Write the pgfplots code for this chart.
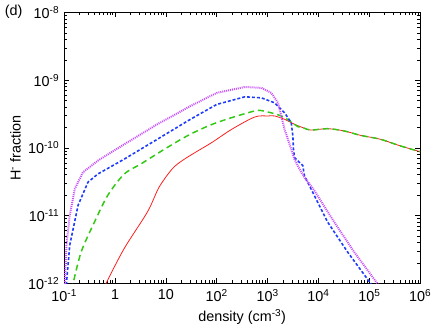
\documentclass[border=0pt]{standalone}
\usepackage{fontspec}
\setmainfont{Liberation Sans}
\usepackage{pgfplots}
\pgfplotsset{compat=1.18}

\definecolor{cred}{RGB}{250,30,30}
\definecolor{cgreen}{RGB}{50,200,20}
\definecolor{cblue}{RGB}{30,60,250}
\definecolor{cmag}{RGB}{200,80,250}

\begin{document}
\fontsize{14.5}{17}\selectfont
\begin{tikzpicture}
\begin{axis}[
    name=ax,
    scale only axis,
    width=359pt, height=273pt,
    xmode=log, ymode=log,
    xmin=0.1, xmax=1e6, ymin=1e-12, ymax=1e-8,
    xtick={1e-1,1,10,100,1e3,1e4,1e5,1e6},
    xticklabels={10\textsuperscript{-1},1,10,10\textsuperscript{2},10\textsuperscript{3},10\textsuperscript{4},10\textsuperscript{5},10\textsuperscript{6}},
    ytick={1e-12,1e-11,1e-10,1e-9,1e-8},
    yticklabels={10\textsuperscript{-12},10\textsuperscript{-11},10\textsuperscript{-10},10\textsuperscript{-9},10\textsuperscript{-8}},
    tick align=inside,
    major tick length=5pt, minor tick length=3pt,
    every tick/.style={black, line width=0.6pt},
    axis line style={line width=0.9pt},
    tick label style={font=\fontsize{14.5}{17}\selectfont},
    xticklabel style={yshift=-1pt},
    label style={font=\fontsize{14.5}{17}\selectfont},
    xlabel={density (cm\textsuperscript{-3})},
    ylabel={H\textsuperscript{-} fraction},
    xlabel style={at={(axis description cs:0.5,-0.125)}, anchor=center},
    ylabel style={at={(axis description cs:-0.1365,0.5)}, anchor=center, rotate=0},
    clip mode=individual,
  ]
  % red, solid
  \addplot[cred, line width=0.8pt, smooth] coordinates {
    (0.60,8.0e-13) (0.668,1e-12) (1.52,3.27e-12) (4.34,1.13e-11) (7.35,2.62e-11)
    (13.3,4.88e-11) (20.9,6.47e-11) (37.9,8.57e-11) (80.2,1.20e-10) (197,1.88e-10)
    (561,2.86e-10)
    (1023,2.96e-10) (1374,2.96e-10) (2155,2.64e-10) (3376,2.23e-10) (5286,1.95e-10)
    (7145,1.83e-10) (15100,1.92e-10) (31840,1.78e-10) (67300,1.53e-10)
    (1.65e5,1.34e-10) (4.06e5,1.07e-10) (1e6,8.77e-11)
  };
  % green, long dashes
  \addplot[cgreen, line width=1.5pt, dash pattern=on 6pt off 4pt, smooth] coordinates {
    (0.140,8.0e-13) (0.150,1e-12) (0.217,2.92e-12) (0.396,8.05e-12) (0.721,1.99e-11)
    (1.52,4.11e-11) (3.21,5.77e-11) (10.6,1.01e-10) (30.3,1.59e-10) (100,2.36e-10)
    (553,3.50e-10) (948,3.42e-10) (1859,2.96e-10) (2912,2.42e-10) (3936,2.06e-10)
    (5286,1.95e-10) (7145,1.83e-10) (15100,1.92e-10) (31840,1.78e-10) (67300,1.53e-10)
    (1.65e5,1.34e-10) (4.06e5,1.07e-10) (1e6,8.77e-11)
  };
  % blue, short dashes
  \addplot[cblue, line width=1.6pt, dash pattern=on 3pt off 2pt] coordinates {
    (0.108,8.0e-13) (0.111,1e-12) (0.129,3.67e-12) (0.188,1.42e-11) (0.294,3.11e-11)
    (0.460,4.11e-11) (1.52,6.82e-11) (6.79,1.34e-10) (30.3,2.64e-10) (100,4.38e-10)
    (358,5.68e-10) (757,5.48e-10) (1374,4.63e-10) (2155,3.30e-10) (2912,2.36e-10)
    (3141,1.50e-10) (3228,9.57e-11) (3376,7.22e-11) (4223,6.11e-11) (4921,5.47e-11)
    (5286,3.90e-11) (7145,2.48e-11) (15100,8.05e-12) (37040,2.92e-12)
    (1.054e5,1e-12) (1.21e5,8.4e-13)
  };
  % magenta, dotted
  \addplot[cmag, line width=2pt, dash pattern=on 1pt off 1pt] coordinates {
    (0.100,8.0e-13) (0.103,1e-12) (0.111,3.67e-12) (0.129,1.01e-11) (0.162,2.48e-11)
    (0.234,4.36e-11) (0.460,6.47e-11) (1.52,1.13e-10) (6.79,2.23e-10) (30.3,4.14e-10)
    (100,6.49e-10) (358,7.94e-10) (757,7.69e-10) (1186,6.49e-10) (1603,4.63e-10)
    (1859,2.96e-10) (2155,1.88e-10) (2510,1.34e-10) (2912,9.57e-11) (3376,6.82e-11)
    (4223,4.88e-11) (5286,3.68e-11) (8279,2.35e-11) (20320,8.05e-12) (49890,2.92e-12)
    (1.426e5,1e-12) (1.65e5,8.4e-13)
  };
\end{axis}
\node at ([shift={(-51pt,1pt)}]ax.north west) {(d)};
\end{tikzpicture}
\end{document}
